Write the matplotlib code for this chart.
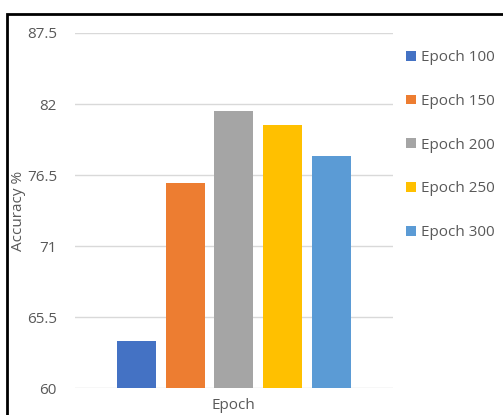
import matplotlib
matplotlib.use("Agg")
import matplotlib.pyplot as plt
from matplotlib.patches import Rectangle, Patch
import numpy as np

# Data
series = ["Epoch 100", "Epoch 150", "Epoch 200", "Epoch 250", "Epoch 300"]
accuracy = [63.7, 75.9, 81.5, 80.4, 78.0]
colors = ["#4472C4", "#ED7D31", "#A5A5A5", "#FFC000", "#5B9BD5"]
yticks = [60, 65.5, 71, 76.5, 82, 87.5]
ytick_labels = ["60", "65.5", "71", "76.5", "82", "87.5"]

plt.rcParams["font.family"] = ["Open Sans", "DejaVu Sans"]
text_color = "#595959"

fig = plt.figure(figsize=(5.03, 4.15), dpi=100)
ax = fig.add_axes([0.1491, 0.0643, 0.6316, 0.8562])

# One category with five clustered series
step = 0.1536
width = 0.1228
ymin = yticks[0]
for i, (name, val, c) in enumerate(zip(series, accuracy, colors)):
    x = 0.5 + (i - 2) * step
    ax.bar(x, val - ymin, bottom=ymin, width=width, color=c, label=name, zorder=3)

ax.set_xlim(0, 1)
ax.set_ylim(yticks[0], yticks[-1])
ax.set_yticks(yticks)
ax.set_yticklabels(ytick_labels)
ax.set_xticks([])
ax.grid(axis="y", color="#D9D9D9", linewidth=1.0, zorder=0)
for s in ax.spines.values():
    s.set_visible(False)
ax.tick_params(axis="y", length=0, pad=13, labelsize=11, labelcolor=text_color)

ax.set_xlabel("Epoch", fontsize=11, color=text_color, labelpad=7)
fig.text(19 / 503, 1 - 211 / 415, "Accuracy %", rotation=90, fontsize=11,
         color=text_color, ha="center", va="center")

handles = [Patch(facecolor=c, edgecolor="none") for c in colors]
leg = fig.legend(handles, series, loc="upper left",
                 bbox_to_anchor=(400 / 503, 1 - 44 / 415),
                 frameon=False, fontsize=11, handlelength=0.62, handleheight=0.62,
                 handletextpad=0.35, labelspacing=1.88, borderaxespad=0)
for t in leg.get_texts():
    t.set_color(text_color)

# Outer chart frame
fig.patches.append(Rectangle((7 / 503, -0.05), 1.2, 1 - 14 / 415 + 0.05,
                             transform=fig.transFigure, fill=False,
                             edgecolor="black", linewidth=2))

fig.savefig("out.png", dpi=100)
